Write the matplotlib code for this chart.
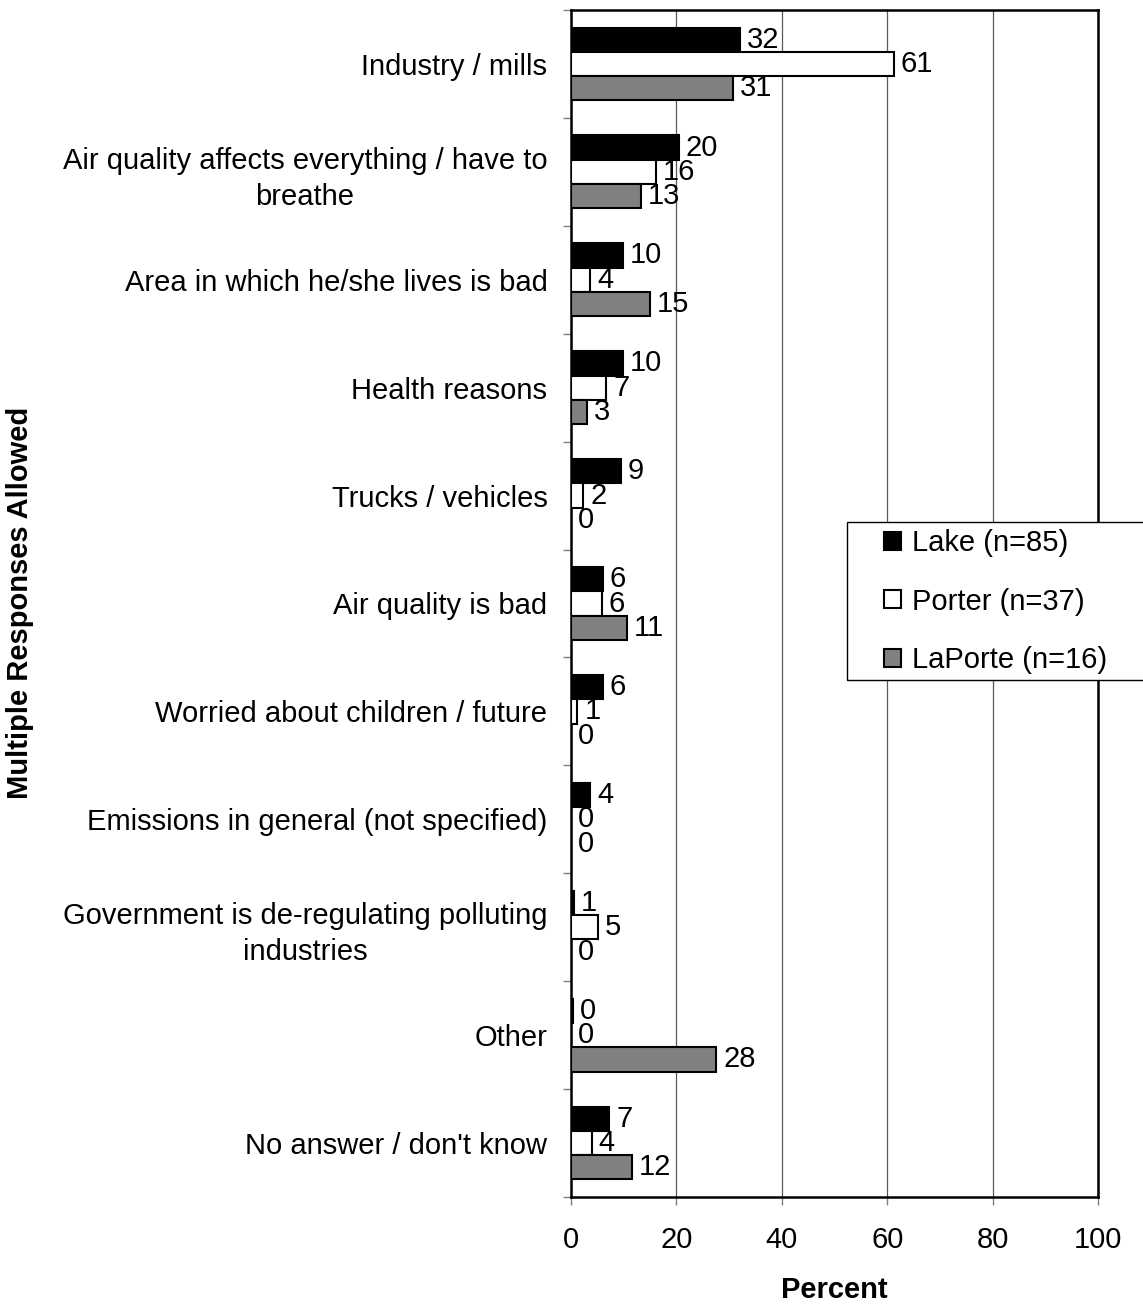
import matplotlib
matplotlib.use("Agg")
import matplotlib.pyplot as plt
import matplotlib.patches as mpatches
import numpy as np

plt.rcParams['font.family'] = ['Liberation Sans', 'DejaVu Sans']

# categories, top to bottom
categories = [
    "Industry / mills",
    "Air quality affects everything / have to\nbreathe",
    "Area in which he/she lives is bad",
    "Health reasons",
    "Trucks / vehicles",
    "Air quality is bad",
    "Worried about children / future",
    "Emissions in general (not specified)",
    "Government is de-regulating polluting\nindustries",
    "Other",
    "No answer / don't know",
]
lake = [32.1, 20.4, 9.9, 9.9, 9.4, 6.0, 6.0, 3.7, 0.6, 0.4, 7.3]
porter = [61.3, 16.1, 3.7, 6.7, 2.3, 5.8, 1.2, 0.0, 5.1, 0.0, 3.9]
laporte = [30.7, 13.2, 15.0, 3.1, 0.0, 10.6, 0.0, 0.0, 0.0, 27.6, 11.6]
series_names = ["Lake (n=85)", "Porter (n=37)", "LaPorte (n=16)"]
xticks = [0, 20, 40, 60, 80, 100]

FS = 21
W, H = 1143, 1305
fig = plt.figure(figsize=(W / 100, H / 100), dpi=100)
ax = fig.add_axes([571 / W, 1 - 1197 / H, (1098 - 571) / W, (1197 - 10) / H])

y = np.arange(len(categories))
bh = 0.225
colors = ['black', 'white', '#808080']
all_series = [lake, porter, laporte]
for i, (vals, col, name) in enumerate(zip(all_series, colors, series_names)):
    bars = ax.barh(y + (i - 1) * bh, vals, height=bh, color=col,
                   edgecolor='black', linewidth=1.5, label=name, zorder=3)
    ax.bar_label(bars, labels=["%.0f" % v for v in vals], padding=5,
                 fontsize=FS, zorder=4)

ax.set_xlim(0, 100)
ax.set_ylim(len(categories) - 0.5, -0.5)
ax.set_xticks(xticks)
ax.set_xticklabels([str(t) for t in xticks], fontsize=FS)
ax.tick_params(axis='x', direction='out', length=6, width=1, color='gray', pad=15)

# boundaries get tick marks, centres get the labels
ax.set_yticks(np.arange(len(categories) + 1) - 0.5)
ax.set_yticklabels([])
ax.tick_params(axis='y', which='major', direction='out', length=6, width=1, color='gray')
ax.set_yticks(y, minor=True)
ax.set_yticklabels(categories, minor=True, fontsize=FS)
ax.tick_params(axis='y', which='minor', length=0, pad=17)
for lbl in ax.get_yticklabels(minor=True):
    lbl.set_multialignment('center')
    lbl.set_linespacing(1.35)

ax.grid(axis='x', color='0.35', linewidth=0.9, zorder=0)
for s in ax.spines.values():
    s.set_linewidth(1.8)
    s.set_color('black')

ax.set_xlabel("Percent", fontsize=FS, fontweight='bold', labelpad=16)
fig.text(20 / W, 1 - 603 / H, "Multiple Responses Allowed", rotation=90,
         fontsize=FS, fontweight='bold', ha='center', va='center')

# legend box runs past the right edge of the figure
box = mpatches.Rectangle((847 / W, 1 - 680 / H), 0.3, (680 - 521.5) / H,
                         transform=fig.transFigure, facecolor='white',
                         edgecolor='black', linewidth=1.0, zorder=4)
fig.add_artist(box)
leg = fig.legend(loc='upper left', bbox_to_anchor=(884 / W, 1 - 529 / H),
                 fontsize=FS, frameon=False, borderaxespad=0, borderpad=0,
                 labelspacing=1.05, handlelength=0.58, handleheight=0.58,
                 handletextpad=0.38)
leg.set_zorder(5)

fig.savefig("out.png", dpi=100)
